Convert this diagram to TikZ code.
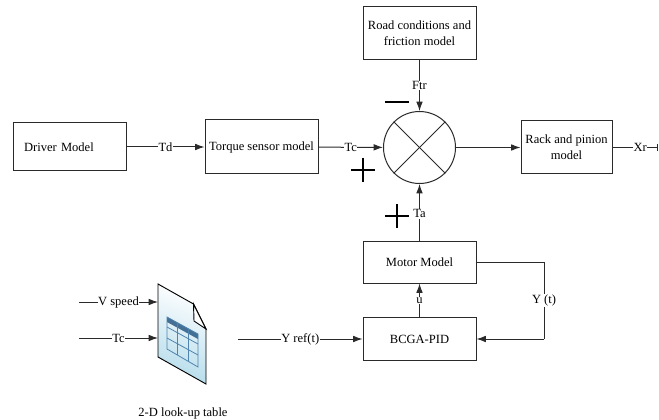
\documentclass[tikz,border=0pt]{standalone}
\usepackage{fontspec}
\setmainfont{Liberation Serif}
\usetikzlibrary{arrows.meta}
\definecolor{linegray}{HTML}{2A2A2A}
\definecolor{tableblue}{HTML}{4F84AE}
\definecolor{sheetblue}{HTML}{B5DCEB}
\tikzset{
    block-box/.style = {draw=linegray, fill=white, line width=0.75pt, rectangle, align=center, inner sep=1pt,
        font=\fontsize{9.4}{12}\selectfont},
    sum-circle/.style = {draw=linegray, fill=white, line width=0.75pt, circle, inner sep=0pt, minimum size=54pt},
    signal/.style = {draw=linegray, line width=0.75pt},
    signal-arrow/.style = {signal, -{Latex[length=7pt,width=5pt]}},
    signal-label/.style = {fill=white, inner sep=0.4pt, font=\fontsize{9.4}{10}\selectfont},
    sign-mark/.style = {draw=black, line width=2.2pt},
}
\begin{document}
\begin{tikzpicture}[x=0.75pt, y=-0.75pt]
\useasboundingbox (0,0) rectangle (659,420);

\node [block-box, minimum width=84.75pt, minimum height=36pt, text width=68pt, inner xsep=8.3pt, align=left] (driver) at (69.5,147) {Driver Model};
\node [block-box, minimum width=84.75pt, minimum height=40.5pt] (torque) at (261.5,147) {Torque sensor model};
\node [block-box, minimum width=84.75pt, minimum height=39.75pt] (road) at (419.5,33.5) {Road conditions and\\friction model};
\node [sum-circle] (sum) at (419.5,147.5) {};
\node [block-box, minimum width=68.25pt, minimum height=39.75pt] (rack) at (566.5,147.5) {Rack and pinion\\model};
\node [block-box, minimum width=84.75pt, minimum height=31.5pt] (motor) at (419.5,262) {Motor Model};
\node [block-box, minimum width=84.75pt, minimum height=32.25pt] (bcga) at (419.5,339) {BCGA-PID};

\coordinate (xr-end) at (658,147.5);
\coordinate (yt-top) at (544,262);
\coordinate (yt-bottom) at (544,339);
\coordinate (yref-start) at (238,339);
\coordinate (vspeed-start) at (79,302);
\coordinate (tc-start) at (79,338);
\coordinate (vspeed-end) at (158,302);
\coordinate (tc-end) at (158,338);

% cross in the summing point
\draw [signal] (sum.north west) -- (sum.south east);
\draw [signal] (sum.north east) -- (sum.south west);

\draw [signal-arrow] (driver) -- node [signal-label] {Td} (torque);
\draw [signal-arrow] (torque) -- node [signal-label] {Tc} (sum);
\draw [signal-arrow] (road) -- node [signal-label] {Ftr} (sum);
\draw [signal-arrow] (motor) -- node [signal-label, pos=0.47] {Ta} (sum);
\draw [signal-arrow] (sum) -- (rack);
\draw [signal, -{Bar[width=5pt]}] (rack) -- node [signal-label, pos=0.61] {Xr} (xr-end);
\draw [signal-arrow] (bcga) -- node [signal-label, pos=0.5] {u} (motor);
\draw [signal] (motor) -- (yt-top) -- node [signal-label, pos=0.5] {Y (t)} (yt-bottom);
\draw [signal-arrow] (yt-bottom) -- (bcga);
\draw [signal-arrow] (yref-start) -- node [signal-label, pos=0.5] {Y ref(t)} (bcga);
\draw [signal-arrow] (vspeed-start) -- node [signal-label] {V speed} (vspeed-end);
\draw [signal-arrow] (tc-start) -- node [signal-label] {Tc} (tc-end);

% plus and minus signs
\foreach \sx/\sy in {363/170, 397/216} {
    \draw [sign-mark] (\sx-12,\sy) -- (\sx+12,\sy);
    \draw [sign-mark] (\sx,\sy-12) -- (\sx,\sy+12);
}
\draw [sign-mark] (385,102) -- (409,102);

% look-up table sheet
\draw [draw=black, line width=0.7pt, top color=white, bottom color=sheetblue, shading angle=-20]
    (158,284) -- (193.5,304) -- (206,329) -- (206,384) -- (158,357) -- cycle;
\draw [draw=black, line width=0.7pt, fill=white] (193.5,304) -- (194,321) -- (206,329) -- cycle;
\fill [tableblue!85!black] (167,317) -- (198,334) -- (198,339) -- (167,322) -- cycle;
\draw [tableblue, line width=0.6pt] (167,317) -- (198,334) -- (198,367) -- (167,349) -- cycle;
\foreach \tx in {177,188} {
    \draw [tableblue, line width=0.6pt] (\tx,{317+(\tx-167)*0.55}) -- (\tx,{349+(\tx-167)*0.58});
}
\foreach \ty in {10,21} {
    \draw [tableblue, line width=0.6pt] (167,317+\ty) -- (198,334+\ty);
}

\node [signal-label, fill=none] (table-title) at (183,413) {2-D look-up table};
\end{tikzpicture}
\end{document}
